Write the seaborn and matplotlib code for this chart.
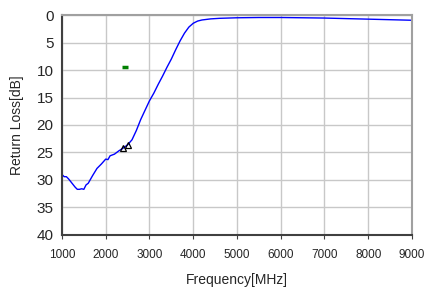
import numpy as np
import pandas as pd
import matplotlib
matplotlib.use("Agg")
import matplotlib.pyplot as plt
import seaborn as sns

# measured return loss curve
freq = [1000, 1050, 1100, 1150, 1200, 1250, 1300, 1350, 1400, 1450, 1500, 1550,
        1600, 1650, 1700, 1800, 1900, 2000, 2050, 2100, 2200, 2300, 2400, 2500,
        2600, 2700, 2800, 2900, 3000, 3100, 3200, 3300, 3400, 3500, 3600, 3700,
        3800, 3900, 4000, 4100, 4200, 4400, 4600, 5000, 5500, 6000, 6500, 7000,
        7500, 8000, 8500, 9000]
return_loss = [29.0, 29.4, 29.4, 29.8, 30.3, 30.8, 31.3, 31.7, 31.7, 31.6, 31.7, 30.9,
               30.6, 29.9, 29.2, 27.9, 27.1, 26.2, 26.3, 25.6, 25.3, 24.7, 24.2, 23.6,
               22.7, 21.0, 19.0, 17.3, 15.6, 14.2, 12.6, 11.1, 9.5, 8.0, 6.3, 4.7,
               3.3, 2.2, 1.5, 1.1, 0.9, 0.7, 0.6, 0.5, 0.45, 0.45, 0.5, 0.55,
               0.65, 0.75, 0.85, 0.95]

# marker points
tri_freq = [2400, 2510]
tri_loss = [24.2, 23.6]
dash_freq = [2440]
dash_loss = [9.5]

df = pd.DataFrame({"freq": freq, "rl": return_loss})

sns.set_style("whitegrid")
plt.rcParams["font.family"] = ["Liberation Sans", "DejaVu Sans"]

fig = plt.figure(figsize=(4.26, 2.89), dpi=100)
ax = fig.add_axes([0.1455, 0.187, 0.8215, 0.761])

sns.lineplot(data=df, x="freq", y="rl", color="#0000ff", linewidth=1.0, ax=ax)
ax.plot(tri_freq, tri_loss, linestyle="none", marker="^", markersize=5,
        markerfacecolor="none", markeredgecolor="black", markeredgewidth=0.9)
ax.plot(dash_freq, dash_loss, linestyle="none", marker="_", markersize=5,
        markeredgecolor="#008000", markeredgewidth=2.5)

ax.set_xlim(1000, 9000)
ax.set_ylim(40, 0)
ax.set_xticks(range(1000, 9001, 1000))
ax.set_yticks(range(0, 41, 5))
ax.grid(True, color="#c8c8c8", linewidth=1.0)
ax.tick_params(axis="x", labelsize=8.5, length=3, direction="out", color="#404040",
               bottom=True, pad=7)
ax.tick_params(axis="y", labelsize=11, length=0, pad=6)

for side in ["left", "bottom"]:
    ax.spines[side].set_color("#404040")
    ax.spines[side].set_linewidth(1.5)
for side in ["top", "right"]:
    ax.spines[side].set_color("#a0a0a0")
    ax.spines[side].set_linewidth(1.5)

ax.set_xlabel("Frequency[MHz]", fontsize=10, labelpad=9)
ax.set_ylabel("Return Loss[dB]", fontsize=10)
ax.yaxis.set_label_coords(-0.108, 0.5)

fig.savefig("out.png", dpi=100)
